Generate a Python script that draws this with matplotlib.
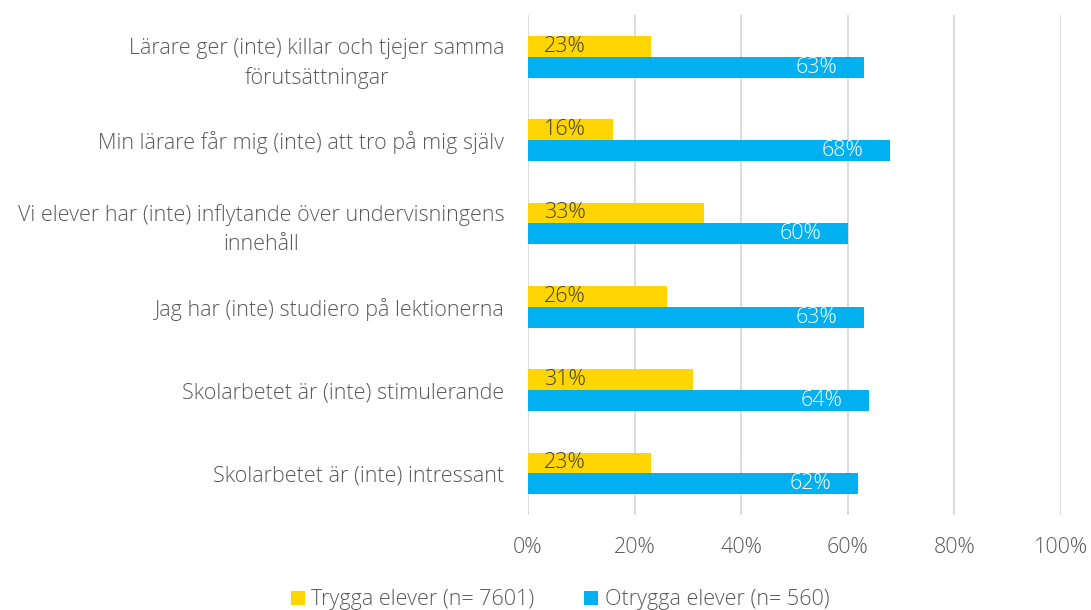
import numpy as np
import matplotlib.pyplot as plt

categories = [
    "Lärare ger (inte) killar och tjejer samma\nförutsättningar",
    "Min lärare får mig (inte) att tro på mig själv",
    "Vi elever har (inte) inflytande över undervisningens\ninnehåll",
    "Jag har (inte) studiero på lektionerna",
    "Skolarbetet är (inte) stimulerande",
    "Skolarbetet är (inte) intressant",
]
trygga = [23, 16, 33, 26, 31, 23]
otrygga = [63, 68, 60, 63, 64, 62]
series_names = ["Trygga elever (n= 7601)", "Otrygga elever (n= 560)"]
xticks = [0, 20, 40, 60, 80, 100]

yellow = "#FFD500"
blue = "#00B0F0"
text_color = "#595959"
fs = 15.5

plt.rcParams['font.family'] = ['Open Sans', 'DejaVu Sans']
plt.rcParams['font.weight'] = 'light'

fig = plt.figure(figsize=(10.91, 6.10), dpi=100)
ax = fig.add_axes([528 / 1091, 1 - 515 / 610, 533 / 1091, 500 / 610])

y = np.arange(len(categories))
h = 0.25
ax.barh(y - h / 2, trygga, height=h, color=yellow, label=series_names[0], zorder=3)
ax.barh(y + h / 2, otrygga, height=h, color=blue, label=series_names[1], zorder=3)

for i in range(len(categories)):
    ax.text(3, y[i] - h / 2, f"{trygga[i]}%", ha="left", va="center",
            fontsize=fs, color="#404040", zorder=4)
    ax.text(otrygga[i] - 5, y[i] + h / 2, f"{otrygga[i]}%", ha="right", va="center",
            fontsize=fs, color="white", zorder=4)

ax.set_xlim(0, 100)
ax.set_ylim(len(categories) - 0.5, -0.5)
ax.set_xticks(xticks)
ax.set_xticklabels([f"{v}%" for v in xticks])
ax.set_yticks(y)
ax.set_yticklabels(categories, multialignment="center", linespacing=1.5)
ax.tick_params(axis="both", length=0, labelsize=fs, labelcolor=text_color)
ax.tick_params(axis="y", pad=17)
ax.tick_params(axis="x", pad=16)
ax.xaxis.grid(True, color="#D9D9D9", linewidth=1.3, zorder=0)
for s in ax.spines.values():
    s.set_visible(False)

ax.legend(loc="center", bbox_to_anchor=(560 / 1091, 1 - 600 / 610),
          bbox_transform=fig.transFigure, ncol=2, frameon=False,
          fontsize=fs, labelcolor=text_color, handlelength=0.65, handleheight=0.65,
          handletextpad=0.3, columnspacing=2.3)

fig.savefig("out.png", dpi=100)
